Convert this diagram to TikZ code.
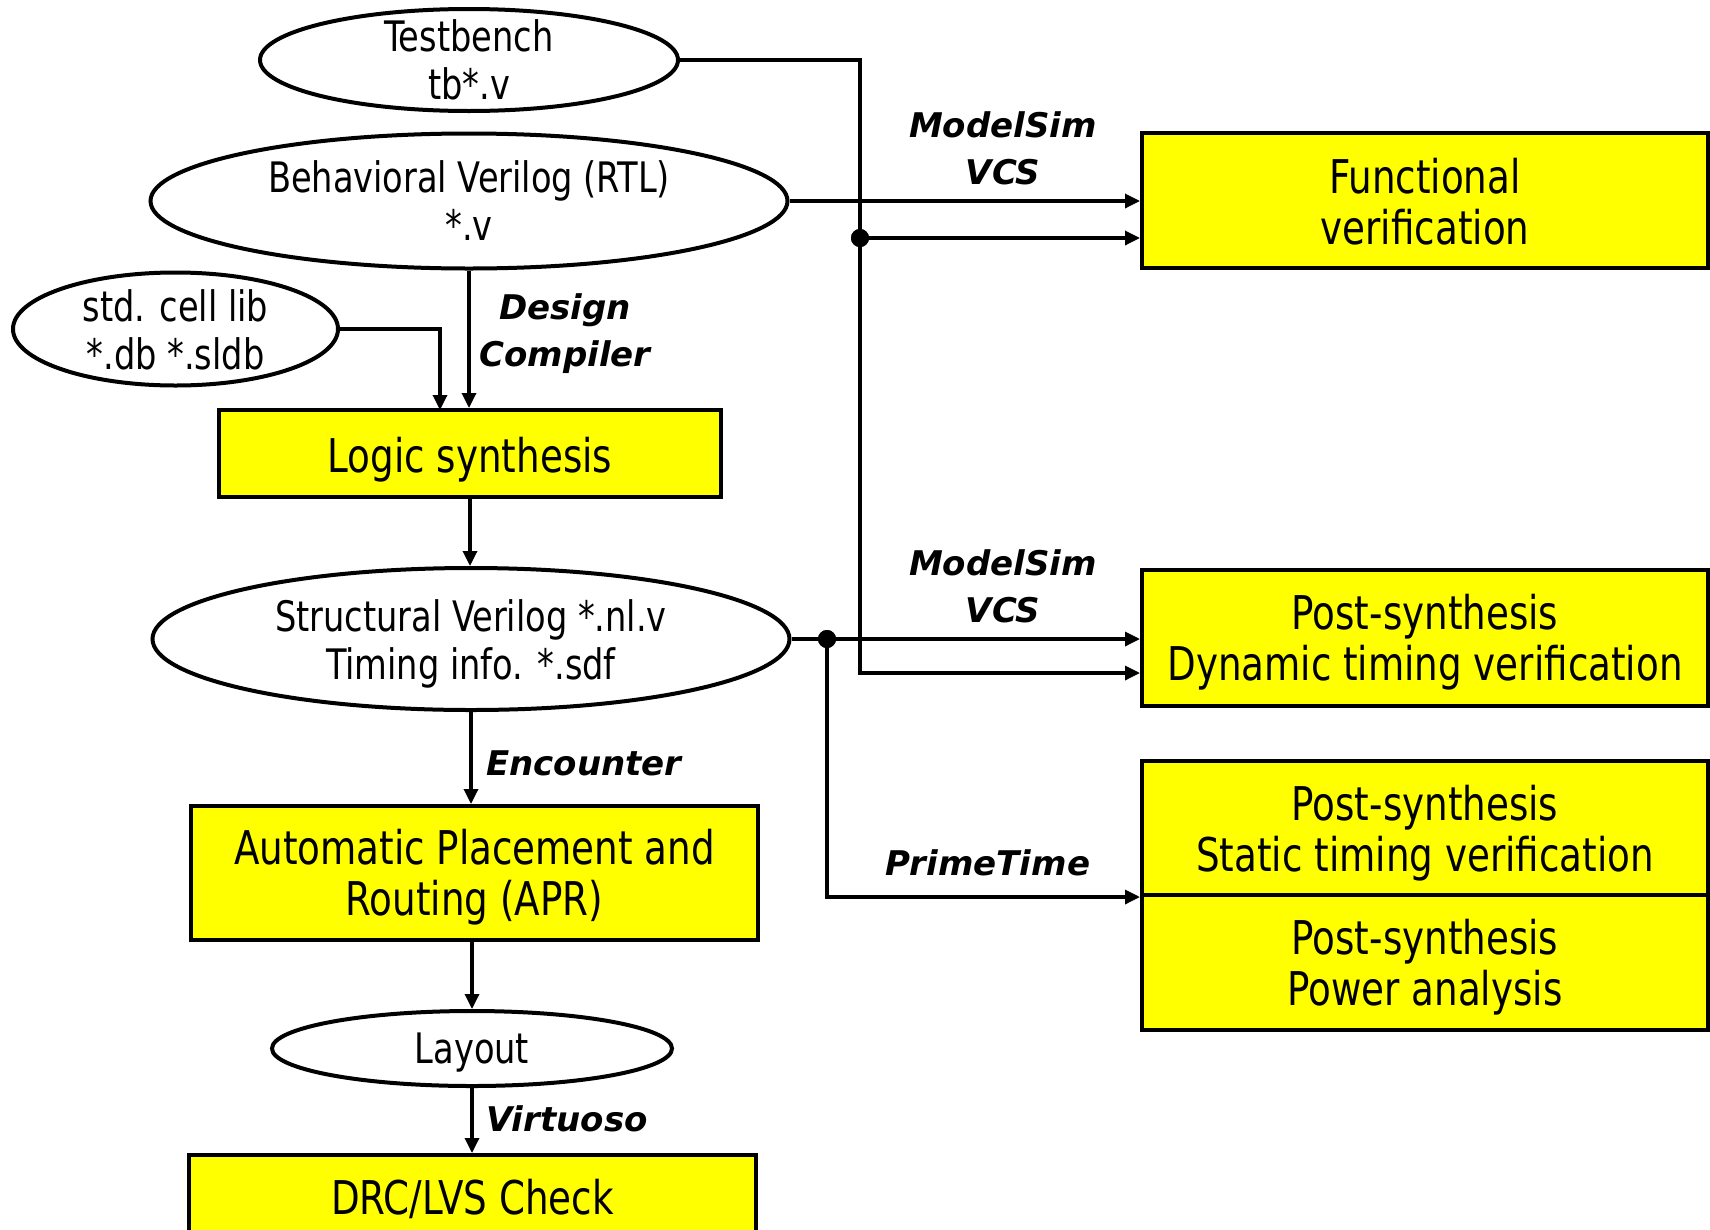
\documentclass[tikz,border=0pt]{standalone}
\usepackage{fontspec}
\setmainfont{DejaVu Sans Condensed}[FakeStretch=0.89]
\newfontfamily\labfont{DejaVu Sans}
\usetikzlibrary{shapes.geometric,arrows.meta}
\definecolor{ylw}{RGB}{255,255,0}
\begin{document}
\begin{tikzpicture}[x=1pt,y=-1pt,
  ell/.style={draw, ellipse, line width=4pt, inner sep=0pt, fill=white},
  etxt/.style={align=center, font=\fontsize{42}{48}\selectfont, inner sep=0pt},
  box/.style={draw, rectangle, line width=4pt, fill=ylw, inner sep=0pt},
  btxt/.style={align=center, font=\fontsize{46.5}{51}\selectfont, inner sep=0pt},
  tool/.style={align=center, font=\labfont\bfseries\itshape\fontsize{34}{47}\selectfont, inner sep=0pt},
  conn/.style={line width=3.3pt},
  arr/.style={conn, -{Triangle[length=15pt,width=14pt]}},
  jdot/.style={circle, fill=black, inner sep=0pt, minimum size=18pt}
]
\useasboundingbox (0,0) rectangle (1710,1229);
\clip (0,0) rectangle (1710,1229);

% ellipses
\node[ell, minimum width=418pt, minimum height=102pt] (tb) at (469,60) {};
\node[etxt] (tbt) at (tb.center) {Testbench\\tb*.v};
\node[ell, minimum width=637pt, minimum height=135pt] (beh) at (469,201) {};
\node[etxt] (beht) at (beh.center) {Behavioral Verilog (RTL)\\*.v};
\node[ell, minimum width=325pt, minimum height=113pt] (std) at (175.5,329) {};
\node[etxt] (stdt) at ([yshift=-1pt]std.center) {std. cell lib\\*.db *.sldb};
\node[ell, minimum width=637pt, minimum height=142pt] (st) at (471,639) {};
\node[etxt] (stt) at ([yshift=-5pt]st.center) {Structural Verilog *.nl.v\\Timing info. *.sdf};
\node[ell, minimum width=400pt, minimum height=75pt] (lay) at (472,1048.5) {};
\node[etxt] (layt) at ([yshift=-4pt]lay.center) {Layout};

% boxes
\node[box, minimum width=502pt, minimum height=87pt] (ls) at (470,453.5) {};
\node[btxt] (lst) at ([yshift=-6pt]ls.center) {Logic synthesis};
\node[box, minimum width=567pt, minimum height=134pt] (apr) at (474.5,873) {};
\node[btxt] (aprt) at ([yshift=-4pt]apr.center) {Automatic Placement and\\Routing (APR)};
\node[box, minimum width=567pt, minimum height=87pt] (drc) at (472.5,1198.5) {};
\node[btxt] (drct) at ([yshift=0pt]drc.center) {DRC/LVS Check};
\node[box, minimum width=566pt, minimum height=135pt] (fun) at (1425,200.5) {};
\node[btxt] (funt) at ([yshift=-1pt]fun.center) {Functional\\verification};
\node[box, minimum width=566pt, minimum height=136pt] (dyn) at (1425,638) {};
\node[btxt] (dynt) at ([yshift=-4pt]dyn.center) {Post-synthesis\\Dynamic timing verification};
\node[box, minimum width=566pt, minimum height=134pt] (sta) at (1425,828) {};
\node[btxt] (stat) at ([yshift=-5pt]sta.center) {Post-synthesis\\Static timing verification};
\node[box, minimum width=566pt, minimum height=135pt] (pow) at (1425,962.5) {};
\node[btxt] (powt) at ([yshift=-5pt]pow.center) {Post-synthesis\\Power analysis};

% junctions and corners
\coordinate (tbc) at (860,673);
\coordinate (lsin) at (440,410);
\node[jdot] (j1) at (860,238) {};
\node[jdot] (j2) at (827,639) {};

% connectors
\draw[arr] (tb.east) -| (tbc) -- (tbc -| dyn.west);
\draw[arr] (j1.center) -- (j1.center -| fun.west);
\draw[arr] (beh.east) -- (beh.east -| fun.west);
\draw[arr] (beh.south) -- (beh.south |- ls.north);
\draw[arr] (std.east) -| (lsin);
\draw[arr] (ls.south) -- (ls.south |- st.north);
\draw[arr] (st.east) -- (st.east -| dyn.west);
\draw[arr] (j2.center) |- (sta.south west);
\draw[arr] (st.south) -- (st.south |- apr.north);
\draw[arr] (apr.south -| lay.north) -- (lay.north);
\draw[arr] (lay.south) -- (lay.south |- drc.north);
\node[jdot] at (j1) {};
\node[jdot] at (j2) {};

% tool labels
\node[tool] (ms1) at (1003,148) {ModelSim\\VCS};
\node[tool] (ms2) at (1003,586) {ModelSim\\VCS};
\node[tool] (pt) at (988,863) {PrimeTime};
\node[tool] (dc) at (565,334) {Design\\Compiler};
\node[tool] (enc) at (584,763) {Encounter};
\node[tool] (vir) at (567,1119) {Virtuoso};
\end{tikzpicture}
\end{document}
